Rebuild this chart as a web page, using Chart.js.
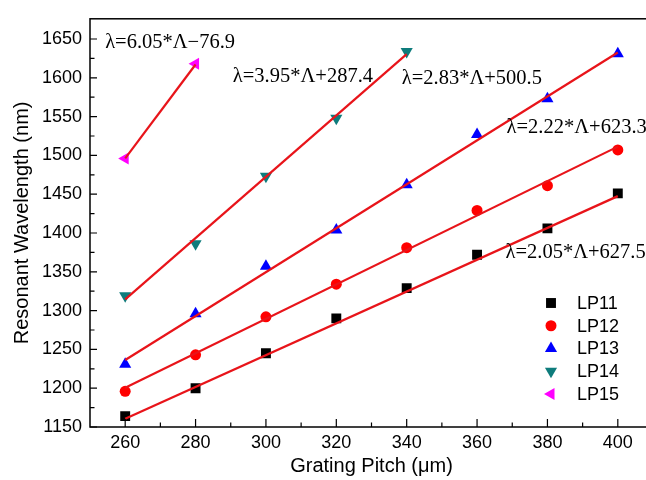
<!DOCTYPE html>
<html><head><meta charset="utf-8">
<script src="https://cdn.jsdelivr.net/npm/chart.js@4.4.1/dist/chart.umd.min.js"></script>
<style>
html,body{margin:0;padding:0;overflow:hidden;background:#fff;width:646px;height:480px}
#wrap{width:660px;height:480px}
</style></head>
<body><div id="wrap"><canvas id="c" width="660" height="480"></canvas></div>
<script>
// ---- data ----
const pitch = [260, 280, 300, 320, 340, 360, 380, 400];
const lp11 = [1164, 1200, 1245, 1290, 1329, 1372, 1406, 1451];
const lp12 = [1196, 1243, 1292, 1334, 1381, 1429, 1461, 1507];
const lp13 = [1231, 1296, 1357, 1404, 1462, 1527, 1573, 1631];
const lp14 = [1319, 1386, 1473, 1548, 1634];
const lp15 = [1496, 1618];
const seriesNames = ['LP11', 'LP12', 'LP13', 'LP14', 'LP15'];
// linear-fit line endpoints (pitch, wavelength)
const fit11X = [260, 400], fit11Y = [1160.5, 1447.5];
const fit12X = [260, 400], fit12Y = [1200.5, 1511.3];
const fit13X = [260, 400], fit13Y = [1236.3, 1632.5];
const fit14X = [260, 340], fit14Y = [1314.4, 1630.4];
const fit15X = [260, 280], fit15Y = [1496.1, 1617.1];
const fitLabels = ['λ=6.05*Λ−76.9', 'λ=3.95*Λ+287.4', 'λ=2.83*Λ+500.5', 'λ=2.22*Λ+623.3', 'λ=2.05*Λ+627.5'];
const xTicks = [260, 280, 300, 320, 340, 360, 380, 400];
const yTicks = [1150, 1200, 1250, 1300, 1350, 1400, 1450, 1500, 1550, 1600, 1650];

// ---- styles ----
const styles = [
  {color:'#000000', pointStyle:'rect', rotation:0, radius:7},
  {color:'#ff0000', pointStyle:'circle', rotation:0, radius:5.5},
  {color:'#0000ff', pointStyle:'triangle', rotation:0, radius:7},
  {color:'#0e7c7c', pointStyle:'triangle', rotation:180, radius:7},
  {color:'#ff00ff', pointStyle:'triangle', rotation:270, radius:7}
];
const values = [lp11, lp12, lp13, lp14, lp15];
const fits = [[fit11X, fit11Y], [fit12X, fit12Y], [fit13X, fit13Y], [fit14X, fit14Y], [fit15X, fit15Y]];
const pts = (xs, ys) => ys.map((v, i) => ({x: xs[i], y: v}));

const datasets = [];
fits.forEach((f, i) => datasets.push({
  type:'line', label:'fit' + i, data: pts(f[0], f[1]), borderColor:'#e8141a', borderWidth:2.2,
  pointRadius:0, fill:false, order:0
}));
values.forEach((v, i) => datasets.push({
  type:'scatter', label: seriesNames[i], data: pts(pitch, v),
  pointStyle: styles[i].pointStyle, rotation: styles[i].rotation, pointRadius: styles[i].radius,
  backgroundColor: styles[i].color, borderColor: styles[i].color, borderWidth:0, order:1
}));

// annotation anchors in data units (left edge, vertical middle)
const annoPos = [[254.3, 1645], [290.6, 1601], [338.6, 1598.5], [368.4, 1535.7], [368.1, 1374.9]];

const decor = {
  id:'decor',
  afterDraw(chart) {
    const {ctx, chartArea:a, scales:{x, y}} = chart;
    ctx.save();
    ctx.strokeStyle = '#000'; ctx.lineWidth = 1.5;
    ctx.strokeRect(a.left, a.top, a.right - a.left, a.bottom - a.top);
    // ticks (inward)
    ctx.lineWidth = 1.2;
    ctx.beginPath();
    xTicks.forEach(v => { const px = x.getPixelForValue(v); ctx.moveTo(px, a.bottom); ctx.lineTo(px, a.bottom - 8); });
    for (let i = 0; i < xTicks.length - 1; i++) {
      const px = x.getPixelForValue((xTicks[i] + xTicks[i+1]) / 2); ctx.moveTo(px, a.bottom); ctx.lineTo(px, a.bottom - 4.5);
    }
    yTicks.forEach(v => { const py = y.getPixelForValue(v); ctx.moveTo(a.left, py); ctx.lineTo(a.left + 7, py); });
    for (let i = 0; i < yTicks.length - 1; i++) {
      const py = y.getPixelForValue((yTicks[i] + yTicks[i+1]) / 2); ctx.moveTo(a.left, py); ctx.lineTo(a.left + 4.5, py);
    }
    ctx.stroke();
    // equations
    ctx.fillStyle = '#000';
    ctx.font = '20.5px "Liberation Serif", "Times New Roman", serif';
    ctx.textAlign = 'left'; ctx.textBaseline = 'middle';
    fitLabels.forEach((t, i) => ctx.fillText(t, x.getPixelForValue(annoPos[i][0]), y.getPixelForValue(annoPos[i][1])));
    // legend
    ctx.font = '18px "Liberation Sans", Arial, sans-serif';
    seriesNames.forEach((n, i) => {
      const ly = 303 + i * 22.75;
      ctx.fillStyle = styles[i].color; ctx.strokeStyle = styles[i].color;
      Chart.helpers.drawPoint(ctx, {pointStyle: styles[i].pointStyle, rotation: styles[i].rotation, radius: styles[i].radius, borderWidth:0}, 551, ly);
      ctx.fillStyle = '#000';
      ctx.fillText(n, 577, ly + 1);
    });
    ctx.restore();
  }
};

const tickFont = {family:'"Liberation Sans", Arial, sans-serif', size:18};
const titleFont = {family:'"Liberation Sans", Arial, sans-serif', size:20};
new Chart(document.getElementById('c'), {
  type:'scatter',
  data:{datasets},
  options:{
    responsive:false, animation:false,
    layout:{padding:{top:8, right:7, left:0, bottom:0}},
    plugins:{legend:{display:false}, tooltip:{enabled:false}},
    scales:{
      x:{type:'linear', min:250, max:410,
        afterBuildTicks: s => { s.ticks = xTicks.map(v => ({value:v})); },
        afterFit: s => { s.height = 53; },
        grid:{display:true, drawOnChartArea:false, drawTicks:false}, border:{display:false},
        ticks:{color:'#000', font:tickFont, padding:5, maxRotation:0, autoSkip:false, callback: v => String(v)},
        title:{display:true, text:'Grating Pitch (μm)', color:'#000', font:titleFont, padding:{top:0, bottom:2}}
      },
      y:{type:'linear', min:1150, max:1676,
        afterBuildTicks: s => { s.ticks = yTicks.map(v => ({value:v})); },
        afterFit: s => { s.width = 90; },
        grid:{display:true, drawOnChartArea:false, drawTicks:false}, border:{display:false},
        ticks:{color:'#000', font:tickFont, padding:8, autoSkip:false, callback: v => String(v)},
        title:{display:true, text:'Resonant Wavelength (nm)', color:'#000', font:titleFont, padding:{top:10, bottom:0}}
      }
    }
  },
  plugins:[decor]
});
</script>
</body></html>
